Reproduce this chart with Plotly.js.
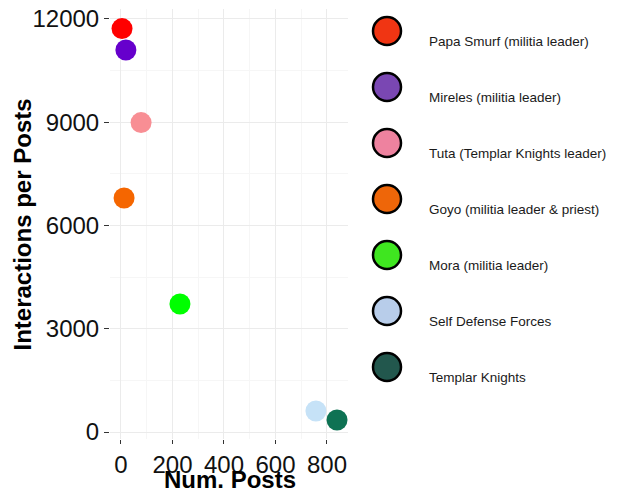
<!DOCTYPE html>
<html>
<head>
<meta charset="utf-8">
<script src="https://cdn.plot.ly/plotly-3.0.1.min.js"></script>
<style>html,body{margin:0;padding:0;background:#fff;}#chart{width:622px;height:488px;}</style>
</head>
<body>
<div id="chart"></div>
<script>
// ---- data ----
const names = [
  "Papa Smurf (militia leader)",
  "Mireles (militia leader)",
  "Tuta (Templar Knights leader)",
  "Goyo (militia leader & priest)",
  "Mora (militia leader)",
  "Self Defense Forces",
  "Templar Knights"
];
const numPosts = [4, 19, 78, 12, 229, 757, 839];
const interactionsPerPost = [11720, 11100, 8990, 6800, 3720, 610, 350];
const pointColors = ["#FF0000", "#6600CC", "#F88E94", "#F56600", "#00FF00", "#C6E2F7", "#0E7253"];
const legendColors = ["#F03513", "#7A47B3", "#EE829F", "#EE6609", "#3FE620", "#B8CDEA", "#22574D"];
const xTicks = [0, 200, 400, 600, 800];
const yTicks = [0, 3000, 6000, 9000, 12000];
const xTitle = "Num. Posts";
const yTitle = "Interactions per Posts";

const FONT = "Liberation Sans, Arial, Helvetica, sans-serif";
const legendIdx = names.map((_, i) => i);

const traces = [
  {
    type: "scatter", mode: "markers",
    x: numPosts, y: interactionsPerPost,
    marker: { color: pointColors, size: 21, line: { width: 0 } },
    xaxis: "x", yaxis: "y", showlegend: false, hoverinfo: "skip"
  },
  {
    type: "scatter", mode: "markers",
    x: legendIdx.map(() => 21), y: legendIdx,
    marker: { color: legendColors, size: 28, line: { width: 2.5, color: "#000" } },
    xaxis: "x2", yaxis: "y2", showlegend: false, hoverinfo: "skip"
  }
];

const annotations = names.map((n, i) => ({
  xref: "x2", yref: "y2", x: 61, y: i, text: n, showarrow: false,
  xanchor: "left", yanchor: "middle", yshift: -10,
  font: { family: FONT, size: 13.5, color: "#1a1a1a" }
}));
annotations.push({
  xref: "paper", yref: "paper", x: (22.5 - 110) / 512, y: 0.4977,
  xanchor: "center", yanchor: "middle", textangle: -90, showarrow: false,
  text: "<b>" + yTitle + "</b>",
  font: { family: FONT, size: 24, color: "#000" }
});
annotations.push({
  xref: "paper", yref: "paper", x: (230 - 110) / 512, y: (439 - 479.5) / 430,
  xanchor: "center", yanchor: "middle", showarrow: false,
  text: "<b>" + xTitle + "</b>",
  font: { family: FONT, size: 24, color: "#000" }
});

const layout = {
  width: 622, height: 488,
  margin: { l: 110, r: 0, t: 9, b: 49 },
  paper_bgcolor: "#fff", plot_bgcolor: "#fff",
  showlegend: false,
  font: { family: FONT, color: "#000" },
  xaxis: {
    domain: [0, 238 / 512],
    range: [-42.7, 881.6],
    tickvals: xTicks, ticktext: xTicks.map(String),
    showgrid: true, gridcolor: "#EBEBEB", gridwidth: 1,
    minor: { dtick: 100, tick0: 0, showgrid: true, gridcolor: "#F6F6F6", gridwidth: 1, ticklen: 0 },
    zeroline: false, showline: false,
    ticks: "outside", ticklen: 4, tickcolor: "#333", tickwidth: 1,
    tickfont: { family: FONT, size: 24, color: "#111" },
    fixedrange: true
  },
  yaxis: {
    domain: [0, 1],
    range: [-203, 12290],
    tickvals: yTicks, ticktext: yTicks.map(String),
    showgrid: true, gridcolor: "#EBEBEB", gridwidth: 1,
    minor: { dtick: 1500, tick0: 0, showgrid: true, gridcolor: "#F6F6F6", gridwidth: 1, ticklen: 0 },
    zeroline: false, showline: false,
    ticks: "outside", ticklen: 5, tickcolor: "#333", tickwidth: 1,
    tickfont: { family: FONT, size: 24, color: "#111" },
    fixedrange: true
  },
  xaxis2: {
    domain: [0.5, 1], range: [0, 256], anchor: "y2",
    visible: false, showgrid: false, zeroline: false, fixedrange: true
  },
  yaxis2: {
    domain: [0, 1], range: [7.2857, -0.3929], anchor: "x2",
    visible: false, showgrid: false, zeroline: false, fixedrange: true
  },
  annotations: annotations
};

Plotly.newPlot("chart", traces, layout, { staticPlot: true, displayModeBar: false });
</script>
</body>
</html>
